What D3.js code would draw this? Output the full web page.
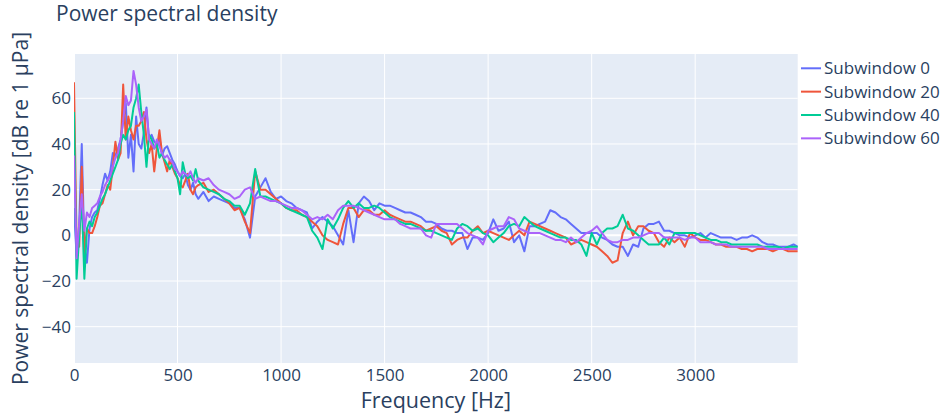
<!DOCTYPE html>
<html>
<head>
<meta charset="utf-8">
<script src="https://cdn.jsdelivr.net/npm/d3@7"></script>
<style>
  body { margin: 0; background: #fff; }
  svg { display: block; font-family: "Open Sans", verdana, arial, sans-serif; }
</style>
</head>
<body>
<svg id="chart"></svg>
<script>
// Chart size and plot box (matches the 944x416 picture)
const width = 944;
const height = 416;
const plot = { left: 74, right: 797.7, top: 54, bottom: 363 };

// Frequency grid: finer below 600 Hz, 25 Hz above
const freqs = d3.range(0, 600, 12.5).concat(d3.range(600, 3500, 25)).concat([3496]);

const seriesNames = ["Subwindow 0", "Subwindow 20", "Subwindow 40", "Subwindow 60"];
const seriesColors = ["#636efa", "#EF553B", "#00cc96", "#ab63fa"];

const xTicks = [0, 500, 1000, 1500, 2000, 2500, 3000];
const yTicks = [-40, -20, 0, 20, 40, 60];

// Subwindow 0
const psd0 = [
  12, -9, 5, 40, -5, -12, 3, 8,
  10, 11, 16, 22, 27, 24, 28, 36,
  35, 38, 42, 50, 58, 34, 44, 28,
  52, 40, 38, 45, 56, 42, 44, 41,
  40, 43, 35, 38, 39, 36, 33, 31,
  28, 26, 25, 27, 22, 20, 23, 18,
  16, 19, 15, 17,
  16, 15, 14, 12,
  12, 7, -1, 17,
  21, 25, 19, 16,
  17, 15, 14, 12,
  11, 10, 3, 6,
  8, 6, 4, 0,
  -4, 11, -3, 14,
  17, 15, 11, 14,
  13, 13, 12, 11,
  10, 10, 9, 8,
  6, 6, 5, 3,
  2, 2, 1, 1,
  -6, -1, -1, -2,
  1, 7, 2, 3,
  6, -3, 0, -7,
  4, 4, 5, 6,
  11, 10, 8, 7,
  5, 3, 1, 1,
  1, 1, -1, -2,
  -4, -5, -5, -9,
  -4, -5, 3, 5,
  5, 6, 2, 2,
  1, 0, 0, -1,
  0, 1, -1, 1,
  0, -1, -1, -1,
  -2, -1, -1, 0,
  -1, -3, -4, -4,
  -5, -5, -5, -4,
  -5
];

// Subwindow 20
const psd20 = [
  67, -3, -5, 30, -8, 3, 1, 1,
  4, 8, 13, 14, 18, 22, 20, 30,
  41, 33, 36, 66, 42, 52, 46, 42,
  48, 48, 50, 54, 42, 36, 40, 28,
  38, 46, 36, 32, 28, 33, 30, 27,
  25, 22, 21, 24, 27, 20, 18, 21,
  22, 23, 19, 20,
  18, 16, 14, 11,
  12, 6, 1, 28,
  20, 20, 18, 16,
  14, 12, 11, 11,
  9, 8, 6, 4,
  0, -2, -3, -4,
  5, 12, 12, 8,
  11, 11, 9, 9,
  11, 9, 8, 7,
  6, 6, 5, 4,
  2, 3, 4, 2,
  1, -4, -2, -1,
  -1, 2, 4, 1,
  2, 1, 0, -1,
  -2, 0, 2, 0,
  6, 5, 4, 3,
  2, 1, 0, -1,
  -4, -3, -2, -3,
  -4, -5, -7, -9,
  -12, -11, 1, 6,
  0, 4, 4, 2,
  1, -3, -5, -1,
  -3, -1, -5, 1,
  -1, -2, -2, -3,
  -4, -4, -5, -5,
  -5, -6, -6, -7,
  -6, -6, -6, -7,
  -6, -6, -7, -7,
  -7
];

// Subwindow 40
const psd40 = [
  54, -19, 0, 16, -19, 3, 6, 4,
  8, 10, 13, 16, 18, 21, 24, 27,
  30, 33, 40, 44, 42, 46, 48, 56,
  60, 66, 54, 44, 30, 44, 42, 38,
  40, 34, 36, 33, 31, 29, 31, 28,
  25, 18, 32, 27, 25, 26, 24, 29,
  24, 21, 20, 19,
  18, 16, 15, 13,
  13, 9, 14, 29,
  17, 17, 16, 15,
  14, 12, 11, 10,
  9, 8, 2, -1,
  -6, 7, 3, 7,
  12, 15, 12, 14,
  12, 12, 13, 12,
  10, 8, 7, 6,
  5, 5, 4, 3,
  2, 2, 1, 0,
  -1, -2, 3, 5,
  4, 2, 3, 1,
  0, -3, -1, 1,
  4, 5, 4, 8,
  6, 4, 3, 2,
  1, 0, -1, -1,
  -2, -2, -4, -9,
  1, -4, 1, 3,
  3, 4, 9, 3,
  2, 0, -2, -4,
  -4, -4, -1, -4,
  1, 1, 1, 1,
  1, 0, -1, -2,
  -2, -3, -3, -4,
  -4, -4, -4, -4,
  -4, -5, -5, -5,
  -5, -6, -5, -5,
  -5
];

// Subwindow 60
const psd60 = [
  35, -10, 5, 18, 2, 10, 8, 12,
  13, 14, 17, 19, 22, 24, 26, 30,
  34, 36, 42, 50, 61, 57, 59, 72,
  66, 56, 50, 52, 55, 42, 40, 38,
  42, 39, 36, 34, 35, 33, 32, 29,
  28, 26, 28, 27, 26, 28, 25, 23,
  25, 24, 25, 22,
  20, 19, 18, 16,
  17, 20, 21, 16,
  17, 16, 15, 15,
  14, 13, 12, 12,
  11, 9, 7, 8,
  7, 9, 7, 11,
  13, 13, 13, 12,
  11, 10, 9, 8,
  7, 7, 7, 5,
  4, 3, 3, 3,
  0, -1, 5, 5,
  5, 5, 5, 3,
  1, 0, -1, -4,
  2, 3, 4, 4,
  8, 7, 3, 2,
  1, 1, 1, 0,
  -1, -2, -2, -3,
  -1, -3, -1, 1,
  2, 4, 1, -2,
  -3, -3, -2, -2,
  -1, -1, 0, 1,
  1, 1, -1, -1,
  -1, -1, -2, -1,
  -1, -3, -3, -3,
  -4, -4, -4, -5,
  -5, -5, -5, -5,
  -5, -5, -6, -6,
  -6, -6, -6, -6,
  -6
];

const seriesValues = [psd0, psd20, psd40, psd60];

const textColor = "#2a3f5f";

const svg = d3.select("#chart")
  .attr("width", width)
  .attr("height", height)
  .attr("viewBox", `0 0 ${width} ${height}`);

const x = d3.scaleLinear().domain([0, 3495]).range([plot.left, plot.right]);
const y = d3.scaleLinear().domain([-55.9, 79.4]).range([plot.bottom, plot.top]);

// Plot background
svg.append("rect")
  .attr("x", plot.left)
  .attr("y", plot.top)
  .attr("width", plot.right - plot.left)
  .attr("height", plot.bottom - plot.top)
  .attr("fill", "#E5ECF6");

// Grid lines
svg.append("g").selectAll("line")
  .data(xTicks)
  .enter().append("line")
  .attr("x1", d => x(d)).attr("x2", d => x(d))
  .attr("y1", plot.top).attr("y2", plot.bottom)
  .attr("stroke", "#fff")
  .attr("stroke-width", d => d === 0 ? 2 : 1);

svg.append("g").selectAll("line")
  .data(yTicks)
  .enter().append("line")
  .attr("x1", plot.left).attr("x2", plot.right)
  .attr("y1", d => y(d)).attr("y2", d => y(d))
  .attr("stroke", "#fff")
  .attr("stroke-width", d => d === 0 ? 2 : 1);

// Clip for the traces
svg.append("clipPath").attr("id", "plot-clip")
  .append("rect")
  .attr("x", plot.left)
  .attr("y", plot.top)
  .attr("width", plot.right - plot.left)
  .attr("height", plot.bottom - plot.top);

const line = d3.line()
  .x(d => x(d[0]))
  .y(d => y(d[1]));

svg.append("g")
  .attr("clip-path", "url(#plot-clip)")
  .selectAll("path")
  .data(seriesValues)
  .enter().append("path")
  .attr("d", vals => line(freqs.map((f, i) => [f, vals[i]])))
  .attr("fill", "none")
  .attr("stroke", (d, i) => seriesColors[i])
  .attr("stroke-width", 2)
  .attr("stroke-linejoin", "round");

// Axes (labels only, plotly style)
const xAxis = svg.append("g")
  .attr("transform", `translate(0,${plot.bottom})`)
  .call(d3.axisBottom(x).tickValues(xTicks).tickSize(0).tickPadding(6).tickFormat(d3.format("d")));
const yAxis = svg.append("g")
  .attr("transform", `translate(${plot.left},0)`)
  .call(d3.axisLeft(y).tickValues(yTicks).tickSize(0).tickPadding(3).tickFormat(d3.format("")));

[xAxis, yAxis].forEach(a => {
  a.select(".domain").remove();
  a.selectAll("text")
    .attr("fill", textColor)
    .style("font-family", "\"Open Sans\", verdana, arial, sans-serif")
    .style("font-size", "17px");
});

// Titles
svg.append("text")
  .attr("x", 56)
  .attr("y", 21)
  .attr("fill", textColor)
  .style("font-size", "21px")
  .text("Power spectral density");

svg.append("text")
  .attr("x", (plot.left + plot.right) / 2)
  .attr("y", 408)
  .attr("text-anchor", "middle")
  .attr("fill", textColor)
  .style("font-size", "21.5px")
  .text("Frequency [Hz]");

svg.append("text")
  .attr("transform", `translate(28,${(plot.top + plot.bottom) / 2}) rotate(-90)`)
  .attr("text-anchor", "middle")
  .attr("fill", textColor)
  .style("font-size", "21px")
  .text("Power spectral density [dB re 1 μPa]");

// Legend
const legend = svg.append("g")
  .selectAll("g")
  .data(seriesNames)
  .enter().append("g")
  .attr("transform", (d, i) => `translate(801,${68.3 + i * 23.35})`);

legend.append("line")
  .attr("x1", 0).attr("x2", 20)
  .attr("stroke", (d, i) => seriesColors[i])
  .attr("stroke-width", 2);

legend.append("text")
  .attr("x", 23)
  .attr("dy", "0.35em")
  .attr("fill", textColor)
  .style("font-size", "17px")
  .text(d => d);
</script>
</body>
</html>
